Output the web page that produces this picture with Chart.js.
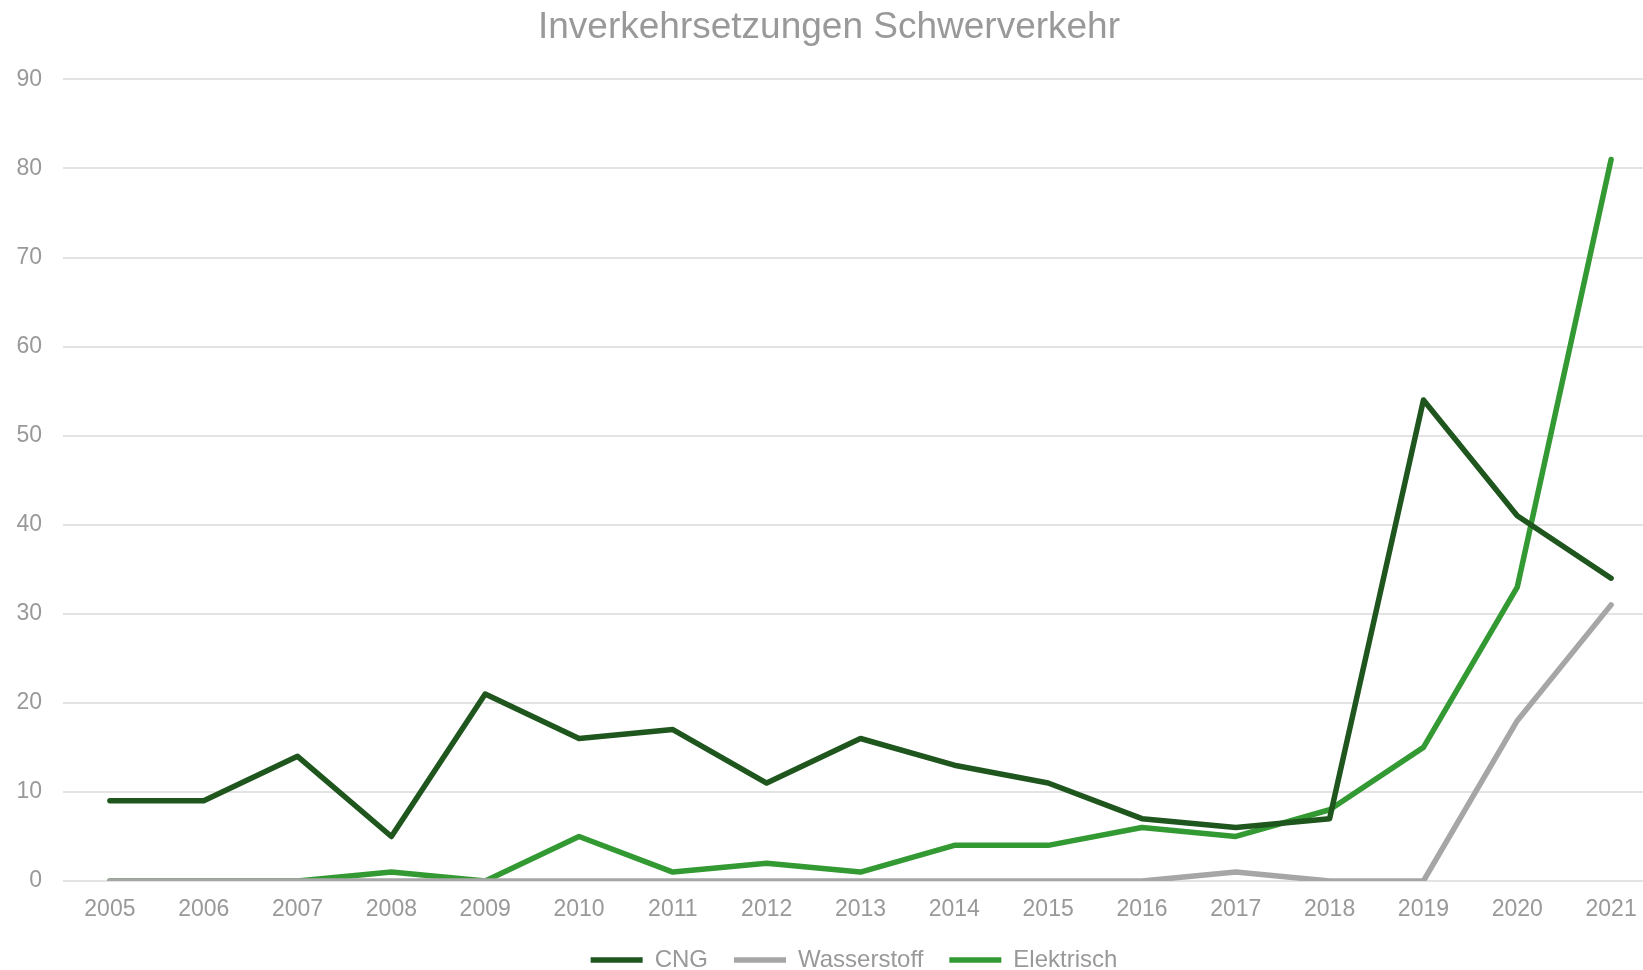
<!DOCTYPE html>
<html>
<head>
<meta charset="utf-8">
<script src="https://cdn.jsdelivr.net/npm/chart.js@4/dist/chart.umd.min.js"></script>
<style>
html,body{margin:0;padding:0;background:#fff;overflow:hidden;}
#clip{position:absolute;left:0;top:0;width:1643px;height:970px;overflow:hidden;}
#wrap{position:absolute;left:0;top:0;width:1684px;height:970px;}
</style>
</head>
<body>
<div id="clip"><div id="wrap"><canvas id="c"></canvas></div></div>
<script>
const years = ['2005','2006','2007','2008','2009','2010','2011','2012','2013','2014','2015','2016','2017','2018','2019','2020','2021'];
const cng = [9,9,14,5,21,16,17,11,16,13,11,7,6,7,54,41,34];
const wasserstoff = [0,0,0,0,0,0,0,0,0,0,0,0,1,0,0,18,31];
const elektrisch = [0,0,0,1,0,5,1,2,1,4,4,6,5,8,15,33,81];
const yTicks = [0,10,20,30,40,50,60,70,80,90];

const FONT = "'Liberation Sans', Arial, sans-serif";
const TXT = '#999999';

function ds(label, data, color){
  return {label, data, borderColor: color, backgroundColor: color, borderWidth: 5.5,
    pointRadius: 0, pointHoverRadius: 0, tension: 0, borderCapStyle: 'round', borderJoinStyle: 'round',
    pointStyle: 'line'};
}

const shiftLegend = {
  id: 'shiftLegend',
  afterLayout(chart) {
    const l = chart.legend;
    if (l) { l.left += 25; l.right += 25; }
  }
};

new Chart(document.getElementById('c'), {
  type: 'line',
  data: {
    labels: years,
    datasets: [
      ds('CNG', cng, '#1e561e'),
      ds('Wasserstoff', wasserstoff, '#a6a6a6'),
      ds('Elektrisch', elektrisch, '#339933')
    ]
  },
  plugins: [shiftLegend],
  options: {
    responsive: true,
    maintainAspectRatio: false,
    animation: false,
    layout: {padding: {left: 0, right: 26, top: 0, bottom: -12}},
    plugins: {
      title: {display: true, text: 'Inverkehrsetzungen Schwerverkehr', color: TXT,
        font: {family: FONT, size: 37, weight: 'normal'}, padding: {top: 6, bottom: 29}},
      legend: {position: 'bottom',
        labels: {color: TXT, font: {family: FONT, size: 24}, usePointStyle: true, pointStyleWidth: 52,
          boxHeight: 24, padding: 26}},
      tooltip: {enabled: false}
    },
    scales: {
      x: {
        offset: true,
        afterFit: (s) => { s.height = 41; },
        grid: {display: false, drawTicks: false},
        border: {display: false},
        ticks: {color: TXT, font: {family: FONT, size: 23}, padding: 15, maxRotation: 0, autoSkip: false}
      },
      y: {
        min: 0, max: 90,
        afterFit: (s) => { s.width = 63; },
        afterBuildTicks: (s) => { s.ticks = yTicks.map(v => ({value: v})); },
        grid: {color: '#e3e3e3', lineWidth: 2, drawTicks: false},
        border: {display: false},
        ticks: {color: TXT, font: {family: FONT, size: 23}, padding: 21}
      }
    }
  }
});
</script>
</body>
</html>
